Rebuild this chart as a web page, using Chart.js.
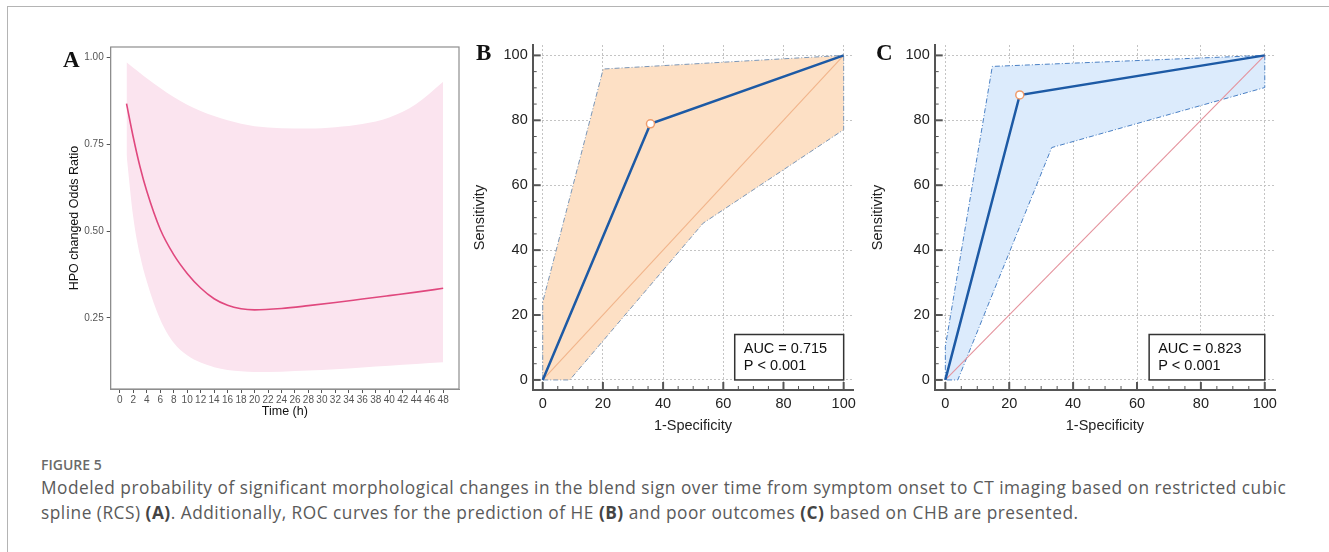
<!DOCTYPE html>
<html><head><meta charset="utf-8">
<script src="https://cdn.jsdelivr.net/npm/chart.js@4.4.0/dist/chart.umd.min.js"></script>
<style>
html,body{margin:0;padding:0;background:#fff;width:1329px;height:552px;overflow:hidden;}
#frame{position:absolute;left:7px;top:6px;width:1330px;height:560px;border-left:1.5px solid #b4b4b4;border-top:1.5px solid #b4b4b4;}
.cv{position:absolute;}
.lbl{position:absolute;font-family:"Liberation Serif","Times New Roman",serif;font-weight:bold;font-size:23px;color:#111;line-height:1;}
#cap{position:absolute;left:41px;top:456px;font-family:"Open Sans",sans-serif;color:#5a5a5a;white-space:nowrap;}
#cap .fig{font-size:14px;line-height:18px;font-weight:600;color:#6a6a6a;}
#cap .txt{font-size:17.3px;line-height:25px;margin-top:1px;letter-spacing:0.5px;}
#cap b{font-weight:700;color:#444;}
</style></head>
<body>
<div id="frame"></div>
<canvas id="cA" class="cv" width="410" height="390" style="left:55px;top:38px;width:410px;height:390px"></canvas>
<canvas id="cB" class="cv" width="400" height="410" style="left:465px;top:30px;width:400px;height:410px"></canvas>
<canvas id="cC" class="cv" width="420" height="410" style="left:865px;top:30px;width:420px;height:410px"></canvas>
<div class="lbl" style="left:63px;top:48px">A</div>
<div class="lbl" style="left:476px;top:41px">B</div>
<div class="lbl" style="left:876px;top:41px">C</div>
<div id="cap"><div class="fig">FIGURE 5</div><div class="txt">Modeled probability of significant morphological changes in the blend sign over time from symptom onset to CT imaging based on restricted cubic<br>spline (RCS) <b>(A)</b>. Additionally, ROC curves for the prediction of HE <b>(B)</b> and poor outcomes <b>(C)</b> based on CHB are presented.</div></div>
<script>
// ---------- Panel A data (RCS) ----------
const timeHours = [1, 2, 3, 4, 6, 8, 10, 12, 14, 16, 18, 20, 24, 28, 32, 36, 40, 44, 48];
const oddsRatio = [0.867, 0.770, 0.685, 0.615, 0.505, 0.432, 0.378, 0.336, 0.305, 0.286, 0.276, 0.273, 0.277, 0.285, 0.294, 0.304, 0.314, 0.324, 0.335];
const oddsUpper = [0.986, 0.970, 0.955, 0.940, 0.912, 0.886, 0.864, 0.846, 0.831, 0.819, 0.809, 0.802, 0.796, 0.795, 0.799, 0.808, 0.827, 0.866, 0.930];
const oddsLower = [0.720, 0.540, 0.430, 0.355, 0.245, 0.178, 0.142, 0.121, 0.108, 0.100, 0.096, 0.094, 0.095, 0.098, 0.102, 0.107, 0.112, 0.117, 0.122];
const timeTicks = [0,2,4,6,8,10,12,14,16,18,20,22,24,26,28,30,32,34,36,38,40,42,44,46,48];
const oddsTicks = [0.25, 0.50, 0.75, 1.00];

// ---------- Panel B data (ROC, HE) ----------
const rocB_fpr = [0, 35.8, 100];
const rocB_tpr = [0, 78.9, 100];
const ciB_upper_fpr = [0, 0, 20.1, 100];
const ciB_upper_tpr = [0, 24, 95.8, 100];
const ciB_lower_fpr = [0, 9, 53.3, 100, 100];
const ciB_lower_tpr = [0, 0, 48.3, 77.1, 100];
const aucB = ['AUC = 0.715', 'P < 0.001'];

// ---------- Panel C data (ROC, poor outcome) ----------
const rocC_fpr = [0, 23.3, 100];
const rocC_tpr = [0, 87.8, 100];
const ciC_upper_fpr = [0, 0, 14.7, 100];
const ciC_upper_tpr = [0, 10.3, 96.6, 100];
const ciC_lower_fpr = [0, 3.9, 33.3, 100, 100];
const ciC_lower_tpr = [0, 0, 71.6, 90.1, 100];
const aucC = ['AUC = 0.823', 'P < 0.001'];

const rocTicks = [0,5,10,15,20,25,30,35,40,45,50,55,60,65,70,75,80,85,90,95,100];
const diagX = [0, 100];
const diagY = [0, 100];

Chart.defaults.font.family = '"Liberation Sans", Arial, sans-serif';
Chart.defaults.animation = false;
Chart.defaults.events = [];

const pts = (xs, ys) => xs.map((v, i) => ({x: v, y: ys[i]}));

// ---------- Panel A ----------
const frameA = {
  id: 'frameA',
  afterDatasetsDraw(chart) {
    const {ctx, chartArea: a} = chart;
    ctx.save();
    ctx.strokeStyle = '#8e8e8e';
    ctx.lineWidth = 1.2;
    ctx.strokeRect(a.left, a.top, a.right - a.left, a.bottom - a.top);
    ctx.restore();
  }
};

new Chart(document.getElementById('cA'), {
  type: 'scatter',
  data: {
    datasets: [
      {data: pts(timeHours, oddsRatio), showLine: true, borderColor: '#e0487e', borderWidth: 1.6,
       pointRadius: 0, cubicInterpolationMode: 'monotone', fill: false},
      {data: pts(timeHours, oddsUpper), showLine: true, borderWidth: 0, borderColor: 'rgba(0,0,0,0)',
       pointRadius: 0, cubicInterpolationMode: 'monotone', fill: '+1', backgroundColor: '#fbe4ef'},
      {data: pts(timeHours, oddsLower), showLine: true, borderWidth: 0, borderColor: 'rgba(0,0,0,0)',
       pointRadius: 0, cubicInterpolationMode: 'monotone', fill: false}
    ]
  },
  options: {
    responsive: false,
    layout: {padding: {top: 6, right: 6, left: 0, bottom: 0}},
    plugins: {legend: {display: false}, tooltip: {enabled: false}},
    scales: {
      x: {
        type: 'linear', min: -1.35, max: 50.35,
        afterBuildTicks: s => { s.ticks = timeTicks.map(v => ({value: v})); },
        afterFit: s => { s.height = 39; },
        ticks: {autoSkip: false, maxRotation: 0, padding: 1, color: '#555', font: {size: 10},
                callback: v => String(v)},
        grid: {drawOnChartArea: false, drawTicks: true, tickLength: 4, tickColor: '#555'},
        border: {display: true, color: '#8e8e8e'},
        title: {display: true, text: 'Time (h)', color: '#111', font: {size: 12.5}, padding: {top: 0, bottom: 8.5}}
      },
      y: {
        type: 'linear', min: 0.045, max: 1.03,
        afterBuildTicks: s => { s.ticks = oddsTicks.map(v => ({value: v})); },
        afterFit: s => { s.width = 55.7; },
        ticks: {padding: 3, color: '#555', font: {size: 10}, callback: v => Number(v).toFixed(2)},
        grid: {drawOnChartArea: false, drawTicks: true, tickLength: 4, tickColor: '#555'},
        border: {display: true, color: '#8e8e8e'},
        title: {display: true, text: 'HPO changed Odds Ratio', color: '#111', font: {size: 12.5}, padding: {top: 12.5, bottom: 0}}
      }
    }
  },
  plugins: [frameA]
});

// ---------- ROC panels ----------
const rocDecor = {
  id: 'rocDecor',
  afterDatasetsDraw(chart, args, opts) {
    const {ctx, chartArea: a, scales: {x, y}} = chart;
    ctx.save();
    ctx.strokeStyle = '#555';
    rocTicks.forEach(v => {
      const major = v % 20 === 0;
      const len = major ? 8 : 4;
      ctx.lineWidth = major ? 2 : 1;
      const px = x.getPixelForValue(v);
      ctx.beginPath(); ctx.moveTo(px, a.bottom); ctx.lineTo(px, a.bottom - len); ctx.stroke();
      const py = y.getPixelForValue(v);
      ctx.beginPath(); ctx.moveTo(a.left, py); ctx.lineTo(a.left + len, py); ctx.stroke();
    });
    // AUC box anchored on data coordinates
    const bx0 = x.getPixelForValue(opts.box[0]), bx1 = x.getPixelForValue(opts.box[2]);
    const by0 = y.getPixelForValue(opts.box[3]), by1 = y.getPixelForValue(opts.box[1]);
    ctx.fillStyle = '#fff';
    ctx.fillRect(bx0, by0, bx1 - bx0, by1 - by0);
    ctx.lineWidth = 1.5;
    ctx.strokeStyle = '#333';
    ctx.strokeRect(bx0, by0, bx1 - bx0, by1 - by0);
    ctx.fillStyle = '#111';
    ctx.font = '14.5px "Liberation Sans", Arial, sans-serif';
    ctx.textBaseline = 'middle';
    ctx.textAlign = 'left';
    ctx.fillText(opts.lines[0], bx0 + 9, by0 + 14);
    ctx.fillText(opts.lines[1], bx0 + 9, by0 + 31);
    ctx.restore();
  }
};

function rocChart(id, cfg) {
  const band = pts(cfg.upX, cfg.upY).concat(pts(cfg.loX, cfg.loY).reverse());
  return new Chart(document.getElementById(id), {
    type: 'scatter',
    data: {
      datasets: [
        {data: pts(cfg.rocX, cfg.rocY), showLine: true, borderColor: '#1d5aa5', borderWidth: 2.5,
         pointRadius: c => (c.dataIndex === 1 ? 4 : 0), pointBackgroundColor: '#fff',
         pointBorderColor: '#ef9c6c', pointBorderWidth: 1.5, fill: false},
        {data: pts(diagX, diagY), showLine: true, borderColor: cfg.diagColor, borderWidth: 1.1,
         pointRadius: 0, fill: false},
        {data: band, showLine: true, borderColor: cfg.edgeColor, borderWidth: 1, borderDash: [5, 2, 1, 2],
         pointRadius: 0, fill: 'shape', backgroundColor: cfg.fillColor}
      ]
    },
    options: {
      responsive: false,
      layout: {padding: {top: 15, right: cfg.padRight, left: 0, bottom: 0}},
      plugins: {legend: {display: false}, tooltip: {enabled: false},
                rocDecor: {box: [63.8, 0, 100, 14], lines: cfg.lines}},
      scales: {
        x: {
          type: 'linear', min: -3.33, max: 103.2,
          afterBuildTicks: s => { s.ticks = rocTicks.map(v => ({value: v})); },
          afterFit: s => { s.height = 50; },
          ticks: {autoSkip: false, maxRotation: 0, padding: 5, color: '#222', font: {size: 14.5},
                  callback: v => (v % 20 === 0 ? String(v) : '')},
          grid: {drawTicks: false, color: c => (c.tick && c.tick.value % 20 === 0 ? '#c4c4c4' : 'rgba(0,0,0,0)'), lineWidth: 1},
          border: {display: true, color: '#555', width: 2, dash: [2, 2]},
          title: {display: true, text: '1-Specificity', color: '#222', font: {size: 14.5}, padding: {top: 0, bottom: 4.9}}
        },
        y: {
          type: 'linear', min: -3.1, max: 103.2,
          afterBuildTicks: s => { s.ticks = rocTicks.map(v => ({value: v})); },
          afterFit: s => { s.width = cfg.yWidth; },
          ticks: {autoSkip: false, padding: 5, color: '#222', font: {size: 14.5},
                  callback: v => (v % 20 === 0 ? String(v) : '')},
          grid: {drawTicks: false, color: c => (c.tick && c.tick.value % 20 === 0 ? '#c4c4c4' : 'rgba(0,0,0,0)'), lineWidth: 1},
          border: {display: true, color: '#555', width: 2, dash: [2, 2]},
          title: {display: true, text: 'Sensitivity', color: '#222', font: {size: 14.5}, padding: {top: cfg.yTitlePad, bottom: 0}}
        }
      }
    },
    plugins: [rocDecor]
  });
}

rocChart('cB', {
  rocX: rocB_fpr, rocY: rocB_tpr,
  upX: ciB_upper_fpr, upY: ciB_upper_tpr, loX: ciB_lower_fpr, loY: ciB_lower_tpr,
  fillColor: '#fde0c5', edgeColor: '#7b96b6', diagColor: '#f1b48b',
  lines: aucB, yWidth: 67.7, padRight: 11.7, yTitlePad: 6.3
});
rocChart('cC', {
  rocX: rocC_fpr, rocY: rocC_tpr,
  upX: ciC_upper_fpr, upY: ciC_upper_tpr, loX: ciC_lower_fpr, loY: ciC_lower_tpr,
  fillColor: '#dcebfc', edgeColor: '#4a80c4', diagColor: '#e4929c',
  lines: aucC, yWidth: 69.7, padRight: 10, yTitlePad: 4.6
});
</script>
</body></html>
